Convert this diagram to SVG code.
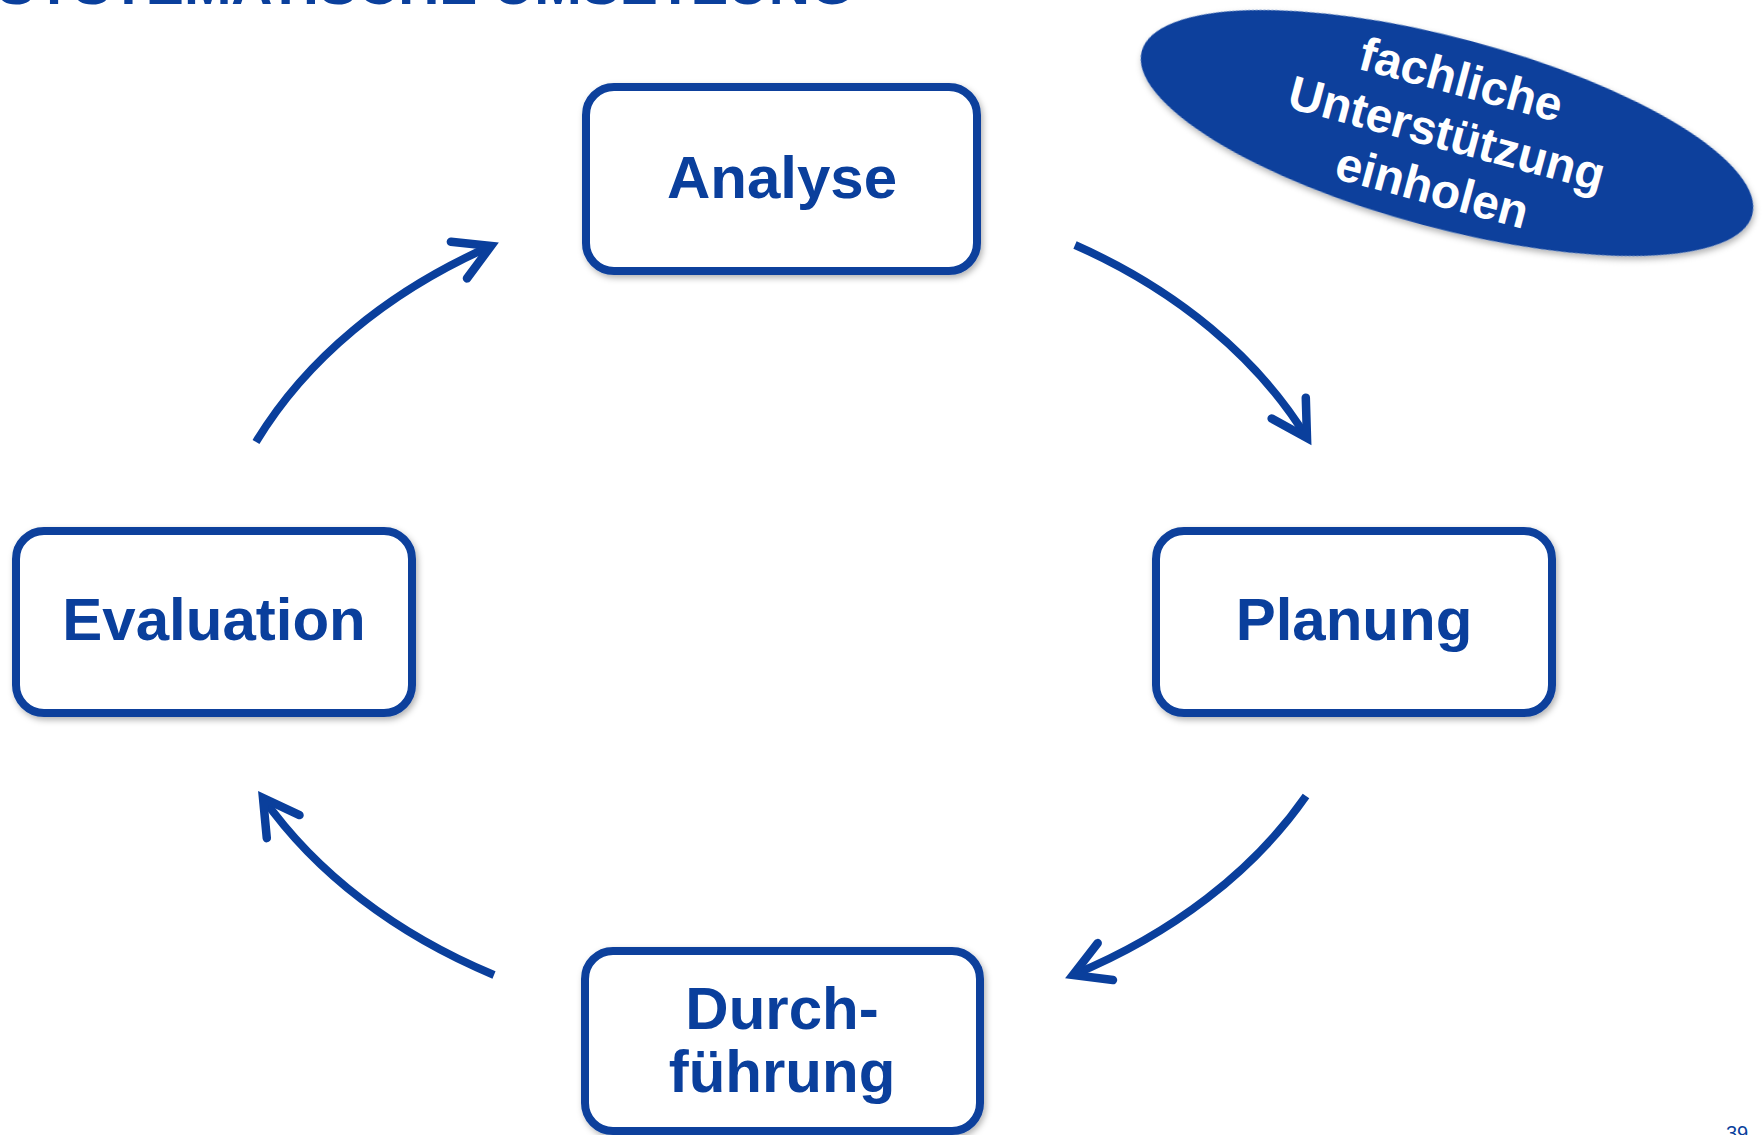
<svg xmlns="http://www.w3.org/2000/svg" width="1762" height="1135" viewBox="0 0 1762 1135">
  <style>
    .box { fill: #ffffff; stroke: #0A3F9C; stroke-width: 8; }
    .lbl { font-family: "Liberation Sans", Arial, sans-serif; font-weight: bold; font-size: 60px; fill: #0A3F9C; text-anchor: middle; }
    .arc { fill: none; stroke: #0A3F9C; stroke-width: 8; }
    .note { font-family: "Liberation Sans", Arial, sans-serif; font-weight: bold; font-size: 48px; fill: #ffffff; text-anchor: middle; }
  </style>
  <defs>
    <filter id="shadow" x="-10%" y="-10%" width="125%" height="130%">
      <feDropShadow dx="2" dy="3" stdDeviation="3" flood-color="#000000" flood-opacity="0.3"/>
    </filter>
    <marker id="head" markerUnits="userSpaceOnUse" markerWidth="60" markerHeight="60" viewBox="-45 -30 55 60" refX="0" refY="0" orient="auto">
      <path d="M-35,-20 L0,0 L-35,20" fill="none" stroke="#0A3F9C" stroke-width="8.5" stroke-linecap="round" stroke-linejoin="miter"/>
    </marker>
  </defs>

  <rect width="1762" height="1135" fill="#ffffff"/>

  <!-- slide title, clipped at the top edge -->
  <text x="-3" y="4" font-family="Liberation Sans, Arial, sans-serif" font-weight="bold" font-size="57" fill="#0A3F9C">SYSTEMATISCHE UMSETZUNG</text>

  <!-- cycle connectors -->
  <g id="connectors">
    <path class="arc" d="M1075,245 A577,435 0 0 1 1307,438" marker-end="url(#head)"/>
    <path class="arc" d="M1306,796 A577,435 0 0 1 1073,975" marker-end="url(#head)"/>
    <path class="arc" d="M494,975 A577,435 0 0 1 263,798" marker-end="url(#head)"/>
    <path class="arc" d="M256,442 A577,435 0 0 1 491,246" marker-end="url(#head)"/>
  </g>

  <g id="analyse">
    <rect class="box" x="586" y="87" width="391" height="184" rx="28" filter="url(#shadow)"/>
    <text class="lbl" x="782" y="198">Analyse</text>
  </g>

  <g id="planung">
    <rect class="box" x="1156" y="531" width="396" height="182" rx="28" filter="url(#shadow)"/>
    <text class="lbl" x="1354" y="640">Planung</text>
  </g>

  <g id="durchfuehrung">
    <rect class="box" x="585" y="951" width="395" height="180" rx="28" filter="url(#shadow)"/>
    <text class="lbl" x="782" y="1029">Durch-</text>
    <text class="lbl" x="782" y="1092">führung</text>
  </g>

  <g id="evaluation">
    <rect class="box" x="16" y="531" width="396" height="182" rx="28" filter="url(#shadow)"/>
    <text class="lbl" x="214" y="640">Evaluation</text>
  </g>

  <!-- tilted callout -->
  <g id="unterstuetzung" transform="translate(1447,133) rotate(15)">
    <ellipse cx="0" cy="0" rx="316" ry="95" fill="#0A3F9C" filter="url(#shadow)"/>
    <text class="note" x="0" y="-39">fachliche</text>
    <text class="note" x="0" y="17">Unterstützung</text>
    <text class="note" x="0" y="73">einholen</text>
  </g>

  <!-- page number -->
  <text x="1737" y="1140" font-family="Liberation Sans, Arial, sans-serif" font-size="20" fill="#0A3F9C" text-anchor="middle">39</text>
</svg>
